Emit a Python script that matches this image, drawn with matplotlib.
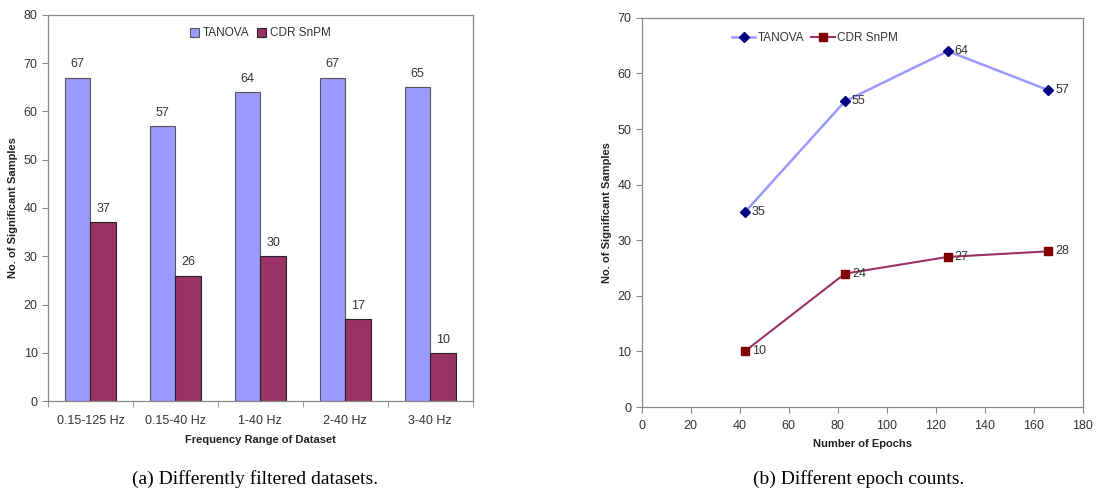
import numpy as np
import matplotlib.pyplot as plt

plt.rcParams['font.family'] = ['Liberation Sans', 'DejaVu Sans']

freq_ranges = ['0.15-125 Hz', '0.15-40 Hz', '1-40 Hz', '2-40 Hz', '3-40 Hz']
tanova_freq = [67, 57, 64, 67, 65]
cdr_freq = [37, 26, 30, 17, 10]

epochs = [42, 83, 125, 166]
tanova_epochs = [35, 55, 64, 57]
cdr_epochs = [10, 24, 27, 28]

light = '#9999FF'
plum = '#993366'
grey = '#888888'
txt = '#333333'


def style_axes(ax):
    for s in ax.spines.values():
        s.set_color(grey)
        s.set_linewidth(0.9)
    ax.tick_params(colors=grey, labelcolor=txt, labelsize=9, direction='out', length=4)


fig = plt.figure(figsize=(10.99, 4.94), dpi=100)

# (a) bar chart
ax1 = fig.add_axes([0.0437, 0.188, 0.3863, 0.782])
x = np.arange(len(freq_ranges))
w = 0.3
b1 = ax1.bar(x - w / 2, tanova_freq, w, color=light, edgecolor='#555555', linewidth=0.8, label='TANOVA')
b2 = ax1.bar(x + w / 2, cdr_freq, w, color=plum, edgecolor='#222222', linewidth=0.8, label='CDR SnPM')
for bars in (b1, b2):
    for r in bars:
        ax1.text(r.get_x() + r.get_width() / 2, r.get_height() + 1.5, f'{int(r.get_height())}',
                 ha='center', va='bottom', fontsize=9, color=txt)
ax1.set_xlim(-0.5, len(freq_ranges) - 0.5)
ax1.set_ylim(0, 80)
ax1.set_yticks(range(0, 81, 10))
ax1.set_xticks(x)
ax1.set_xticklabels(freq_ranges)
ax1.set_xticks(np.arange(-0.5, len(freq_ranges)), minor=True)
style_axes(ax1)
ax1.tick_params(axis='x', which='major', length=0, pad=10)
ax1.tick_params(axis='x', which='minor', length=4, color=grey)
ax1.set_xlabel('Frequency Range of Dataset', fontsize=8, fontweight='bold', color='#222222', labelpad=6)
ax1.set_ylabel('No. of Significant Samples', fontsize=8, fontweight='bold', color='#222222')
ax1.legend(loc='upper center', bbox_to_anchor=(0.5, 0.995), ncol=2, frameon=False, fontsize=8.5,
           handlelength=0.8, handleheight=0.8, handletextpad=0.3, columnspacing=0.6,
           labelcolor=txt)

# (b) line chart
ax2 = fig.add_axes([0.584, 0.176, 0.401, 0.788])
ax2.plot(epochs, tanova_epochs, color=light, linewidth=1.8, marker='D', markersize=5,
         markerfacecolor='#000080', markeredgecolor='#000080', label='TANOVA')
ax2.plot(epochs, cdr_epochs, color=plum, linewidth=1.5, marker='s', markersize=6,
         markerfacecolor='#800000', markeredgecolor='#800000', label='CDR SnPM')
for xs, ys in ((epochs, tanova_epochs), (epochs, cdr_epochs)):
    for xv, yv in zip(xs, ys):
        ax2.annotate(f'{yv}', (xv, yv), xytext=(5, 0), textcoords='offset points',
                     ha='left', va='center', fontsize=9, color=txt)
ax2.set_xlim(0, 180)
ax2.set_ylim(0, 70)
ax2.set_xticks(range(0, 181, 20))
ax2.set_yticks(range(0, 71, 10))
style_axes(ax2)
ax2.tick_params(axis='x', pad=5)
ax2.set_xlabel('Number of Epochs', fontsize=8, fontweight='bold', color='#222222', labelpad=5)
ax2.set_ylabel('No. of Significant Samples', fontsize=8, fontweight='bold', color='#222222')
ax2.legend(loc='upper left', bbox_to_anchor=(0.18, 0.99), ncol=2, frameon=False, fontsize=8.5,
           handlelength=2.0, handletextpad=0.2, columnspacing=0.6, labelcolor=txt)

fig.text(0.232, 0.012, '(a) Differently filtered datasets.', ha='center', va='bottom',
         fontsize=14, family=['Liberation Serif', 'DejaVu Serif'])
fig.text(0.781, 0.012, '(b) Different epoch counts.', ha='center', va='bottom',
         fontsize=14, family=['Liberation Serif', 'DejaVu Serif'])

fig.savefig('out.png', dpi=100)
